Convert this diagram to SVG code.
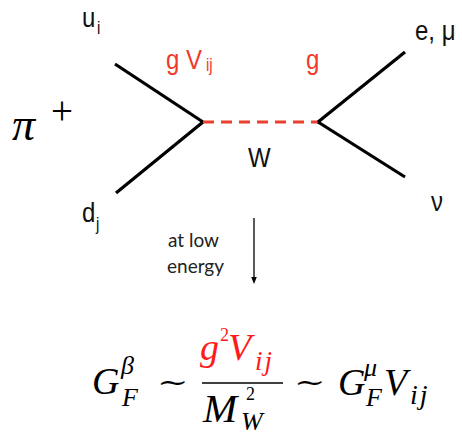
<svg xmlns="http://www.w3.org/2000/svg" width="462" height="438" viewBox="0 0 462 438">
<style>
.lab{font-family:"Liberation Sans",Arial,sans-serif;font-size:24px;fill:#111}
.sub{font-family:"Liberation Sans",Arial,sans-serif;font-size:15px;fill:#111}
.red{fill:#ee3a2c}
.ferm{stroke:#000;stroke-width:3.2;fill:none}
.math{font-family:"Liberation Serif","Times New Roman",serif;font-style:italic;fill:#000}
.rm{font-family:"Liberation Serif","Times New Roman",serif;fill:#000}
.fr{fill:#ff1a1a}
.op{font-family:"DejaVu Serif",serif;font-size:30px;fill:#000}
.note{font-family:Lato,"Open Sans",sans-serif;font-size:19px;fill:#222}
</style>
<rect width="462" height="438" fill="#fff"/>
<g id="connectors">
<line class="ferm" x1="115" y1="64" x2="203" y2="122"/>
<line class="ferm" x1="203" y1="122" x2="116" y2="193"/>
<line x1="203" y1="122" x2="318" y2="122" stroke="#ec3f2d" stroke-width="3.2" stroke-dasharray="11 7"/>
<line class="ferm" x1="318" y1="122" x2="405" y2="52"/>
<line class="ferm" x1="318" y1="122" x2="405" y2="177"/>
<line x1="254" y1="218" x2="254" y2="279" stroke="#000" stroke-width="1.3"/>
<path d="M251.2,277 L254,284 L256.8,277 Z" fill="#000"/>
</g>
<g id="pion"><text class="rm" x="12" y="140" font-size="46" font-style="italic">π</text><text class="rm" x="51" y="124" font-size="39">+</text></g>
<g id="u"><text class="lab" transform="translate(82,27) scale(1,1.18)">u</text><text class="sub" transform="translate(97,34) scale(1,1.18)">i</text></g>
<g id="d"><text class="lab" transform="translate(82,222) scale(1,1.18)">d</text><text class="sub" transform="translate(96,230) scale(1,1.18)">j</text></g>
<g id="vertex1"><text class="lab red" transform="translate(166,69) scale(1,1.18)">g V</text><text class="sub red" transform="translate(206,71) scale(1,1.18)">ij</text></g>
<g id="vertex2"><text class="lab red" transform="translate(306,69) scale(1,1.18)">g</text></g>
<g id="W"><text class="lab" transform="translate(248,167) scale(1,1.18)">W</text></g>
<g id="lepton"><text class="lab" transform="translate(415,40) scale(1,1.18)">e, μ</text></g>
<g id="nu"><text class="lab" transform="translate(431,211) scale(1,1.18)">ν</text></g>
<g id="note"><text class="note" x="168" y="247">at low</text><text class="note" x="167" y="273">energy</text></g>
<g id="formula">
<text class="math" x="92" y="394" font-size="38">G</text>
<text class="math" x="121" y="374" font-size="26">β</text>
<text class="math" x="122" y="406" font-size="26">F</text>
<text class="op" transform="translate(157,391) scale(1.25,0.85)">∼</text>
<text class="math fr" x="200" y="360" font-size="38">g</text>
<text class="rm fr" x="220" y="341" font-size="18">2</text>
<text class="math fr" x="228" y="360" font-size="38">V</text>
<text class="math fr" x="255" y="370" font-size="27" letter-spacing="2">ij</text>
<line x1="202" y1="383" x2="283" y2="383" stroke="#000" stroke-width="1.6"/>
<text class="math" x="203" y="422" font-size="41">M</text>
<text class="rm" x="246" y="400" font-size="18">2</text>
<text class="math" x="241" y="430" font-size="26">W</text>
<text class="op" transform="translate(294,391) scale(1.25,0.85)">∼</text>
<text class="math" x="338" y="395" font-size="38">G</text>
<text class="math" x="364" y="376" font-size="26">μ</text>
<text class="math" x="366" y="406" font-size="26">F</text>
<text class="math" x="384" y="395" font-size="38">V</text>
<text class="math" x="410" y="404" font-size="28" letter-spacing="2">ij</text>
</g>
</svg>
